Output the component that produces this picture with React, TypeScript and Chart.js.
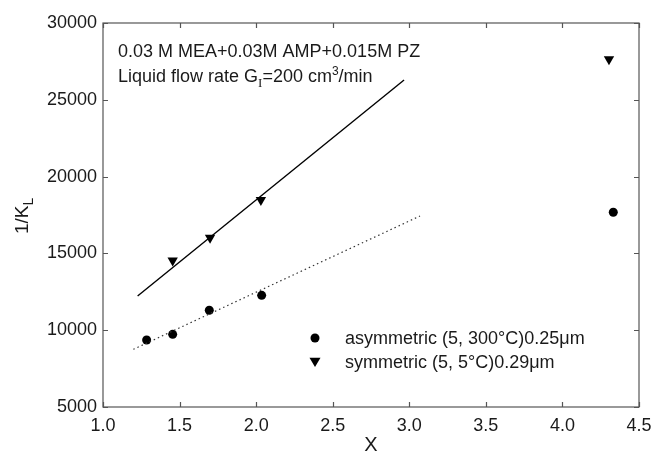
import React, { useEffect, useRef } from "react";
import { Chart, registerables } from "chart.js";
Chart.register(...registerables);

const xTickValues = [1.0, 1.5, 2.0, 2.5, 3.0, 3.5, 4.0, 4.5];
const yTickValues = [5000, 10000, 15000, 20000, 25000, 30000];

const asymX = [1.285, 1.455, 1.694, 2.036, 4.332];
const asymY = [9360, 9730, 11300, 12270, 17680];
const symX = [1.455, 1.699, 2.031, 4.304];
const symY = [14530, 16020, 18480, 27640];
const symFitX = [1.226, 2.966];
const symFitY = [12230, 26290];
const asymFitX = [1.198, 3.07];
const asymFitY = [8755, 17435];

const legendLabels = ["asymmetric (5, 300°C)0.25μm", "symmetric (5, 5°C)0.29μm"];
const noteLine1 = "0.03 M MEA+0.03M AMP+0.015M PZ";

const FONT = "'Liberation Sans', Arial, sans-serif";
const TEXT = "#1a1a1a";
const AXIS = "#555555";

const zip = (xs: number[], ys: number[]) => xs.map((x, i) => ({ x, y: ys[i] }));

function drawTri(ctx: CanvasRenderingContext2D, x: number, y: number, r: number) {
  ctx.beginPath();
  ctx.moveTo(x - r, y - r * 0.6);
  ctx.lineTo(x + r, y - r * 0.6);
  ctx.lineTo(x, y + r * 1.1);
  ctx.closePath();
  ctx.fill();
}

const decorPlugin = {
  id: "decor",
  afterDraw(chart: any) {
    const ctx: CanvasRenderingContext2D = chart.ctx;
    const { left, right, top, bottom } = chart.chartArea;
    const xs = chart.scales.x;
    const ys = chart.scales.y;
    ctx.save();
    // frame
    ctx.strokeStyle = AXIS;
    ctx.lineWidth = 1.2;
    ctx.strokeRect(left, top, right - left, bottom - top);
    // inward ticks
    const tl = 5;
    ctx.beginPath();
    xTickValues.forEach((v) => {
      const px = Math.round(xs.getPixelForValue(v)) + 0.5;
      ctx.moveTo(px, bottom);
      ctx.lineTo(px, bottom - tl);
      ctx.moveTo(px, top);
      ctx.lineTo(px, top + tl);
    });
    yTickValues.forEach((v) => {
      const py = Math.round(ys.getPixelForValue(v)) + 0.5;
      ctx.moveTo(left, py);
      ctx.lineTo(left + tl, py);
      ctx.moveTo(right, py);
      ctx.lineTo(right - tl, py);
    });
    ctx.stroke();

    ctx.fillStyle = TEXT;
    ctx.textBaseline = "alphabetic";
    ctx.textAlign = "left";
    // annotation
    ctx.font = `18px ${FONT}`;
    ctx.fillText(noteLine1, 118, 57);
    let x = 118;
    const y2 = 82;
    const seg = (t: string, font: string, dy: number) => {
      ctx.font = font;
      ctx.fillText(t, x, y2 + dy);
      x += ctx.measureText(t).width;
    };
    seg("Liquid flow rate G", `18px ${FONT}`, 0);
    seg("I", `13px 'Liberation Serif', 'Times New Roman', serif`, 5);
    seg("=200 cm", `18px ${FONT}`, 0);
    seg("3", `12px ${FONT}`, -7);
    seg("/min", `18px ${FONT}`, 0);

    // legend
    ctx.font = `18px ${FONT}`;
    ctx.textBaseline = "middle";
    ctx.fillStyle = "#000";
    ctx.beginPath();
    ctx.arc(315, 338, 4.5, 0, Math.PI * 2);
    ctx.fill();
    drawTri(ctx, 315, 361, 5.5);
    ctx.fillStyle = TEXT;
    ctx.fillText(legendLabels[0], 345, 339);
    ctx.fillText(legendLabels[1], 345, 363);

    // axis titles
    ctx.textBaseline = "alphabetic";
    ctx.textAlign = "center";
    ctx.font = `20px ${FONT}`;
    ctx.fillText("X", (left + right) / 2, 451);

    ctx.translate(28, 234);
    ctx.rotate(-Math.PI / 2);
    ctx.textAlign = "left";
    ctx.font = `19px ${FONT}`;
    ctx.fillText("1/K", 0, 0);
    const w = ctx.measureText("1/K").width;
    ctx.font = `14px ${FONT}`;
    ctx.fillText("L", w, 5);
    ctx.restore();
  },
};

export default function App() {
  const ref = useRef<HTMLCanvasElement>(null);
  useEffect(() => {
    const canvas = ref.current!;
    const chart = new Chart(canvas, {
      type: "scatter",
      data: {
        datasets: [
          {
            label: "asym fit",
            data: zip(asymFitX, asymFitY),
            showLine: true,
            borderColor: "#333",
            borderWidth: 1.2,
            borderDash: [1.5, 3],
            pointRadius: 0,
          },
          {
            label: "sym fit",
            data: zip(symFitX, symFitY),
            showLine: true,
            borderColor: "#000",
            borderWidth: 1.4,
            pointRadius: 0,
          },
          {
            label: legendLabels[0],
            data: zip(asymX, asymY),
            pointStyle: "circle",
            pointRadius: 4.5,
            backgroundColor: "#000",
            borderColor: "#000",
            borderWidth: 0,
          },
          {
            label: legendLabels[1],
            data: zip(symX, symY),
            pointStyle: "triangle",
            rotation: 180,
            pointRadius: 6,
            backgroundColor: "#000",
            borderColor: "#000",
            borderWidth: 0,
          },
        ],
      },
      options: {
        animation: false,
        responsive: false,
        layout: { padding: { left: 0, top: 23, right: 15, bottom: 0 } },
        plugins: { legend: { display: false }, tooltip: { enabled: false } },
        scales: {
          x: {
            type: "linear",
            min: 1,
            max: 4.5,
            afterBuildTicks: (s: any) => {
              s.ticks = xTickValues.map((v) => ({ value: v }));
            },
            afterFit: (s: any) => {
              s.height = 44;
              s.paddingLeft = 0;
              s.paddingRight = 0;
            },
            grid: { display: false, drawTicks: false },
            border: { display: false },
            ticks: {
              padding: 8,
              color: TEXT,
              maxRotation: 0,
              font: { family: FONT, size: 18 },
              callback: (v: any) => Number(v).toFixed(1),
            },
          },
          y: {
            type: "linear",
            min: 5000,
            max: 30000,
            afterBuildTicks: (s: any) => {
              s.ticks = yTickValues.map((v) => ({ value: v }));
            },
            afterFit: (s: any) => {
              s.width = 103;
              s.paddingTop = 0;
              s.paddingBottom = 0;
            },
            grid: { display: false, drawTicks: false },
            border: { display: false },
            ticks: {
              padding: 6,
              color: TEXT,
              font: { family: FONT, size: 18 },
              callback: (v: any) => String(v),
            },
          },
        },
      },
      plugins: [decorPlugin],
    } as any);
    return () => chart.destroy();
  }, []);
  return (
    <div style={{ position: "fixed", left: 0, top: 0, width: 654, height: 451, background: "#fff" }}>
      <canvas ref={ref} width={654} height={451} />
    </div>
  );
}
